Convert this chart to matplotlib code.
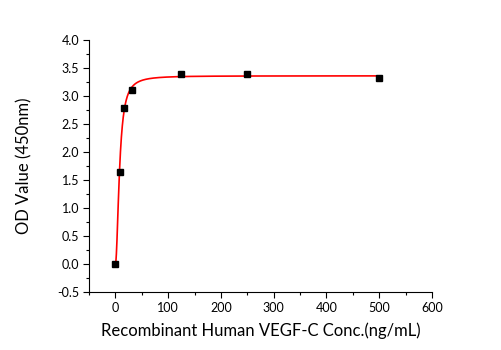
import numpy as np
import matplotlib
matplotlib.use("Agg")
import matplotlib.pyplot as plt
from matplotlib.ticker import MultipleLocator, FormatStrFormatter

conc = [0, 7.8, 15.6, 31.25, 125, 250, 500]
od = [0.0, 1.65, 2.78, 3.10, 3.40, 3.40, 3.33]

# four-parameter logistic fit parameters (estimated)
A1, A2, X0, P = 0.0, 3.36, 7.9, 2.0

plt.rcParams['font.family'] = ['Lato', 'DejaVu Sans']

fig = plt.figure(figsize=(5.01, 3.5), dpi=100)
ax = fig.add_axes([89/501, 1-292/350, (432-89)/501, (292-40)/350])

xf = np.linspace(0, max(conc), 4000)
yf = A2 + (A1 - A2) / (1 + (xf / X0) ** P)
ax.plot(xf, yf, color='#ff0000', lw=1.2, zorder=2)
ax.plot(conc, od, 's', color='black', ms=4, zorder=3)

ax.set_xlim(-50, 600)
ax.set_ylim(-0.5, 4.0)
ax.xaxis.set_major_locator(MultipleLocator(100))
ax.xaxis.set_minor_locator(MultipleLocator(50))
ax.yaxis.set_major_locator(MultipleLocator(0.5))
ax.yaxis.set_minor_locator(MultipleLocator(0.25))
ax.yaxis.set_major_formatter(FormatStrFormatter('%.1f'))
for s in ['top', 'right']:
    ax.spines[s].set_visible(False)
ax.tick_params(which='major', direction='out', length=4, width=0.8, labelsize=9, pad=3)
ax.tick_params(which='minor', direction='out', length=2.5, width=0.8)
ax.set_xlabel('Recombinant Human VEGF-C Conc.(ng/mL)', fontsize=12, labelpad=6)
ax.set_ylabel('OD Value (450nm)', fontsize=12, labelpad=18)

fig.savefig('out.png', dpi=100)
